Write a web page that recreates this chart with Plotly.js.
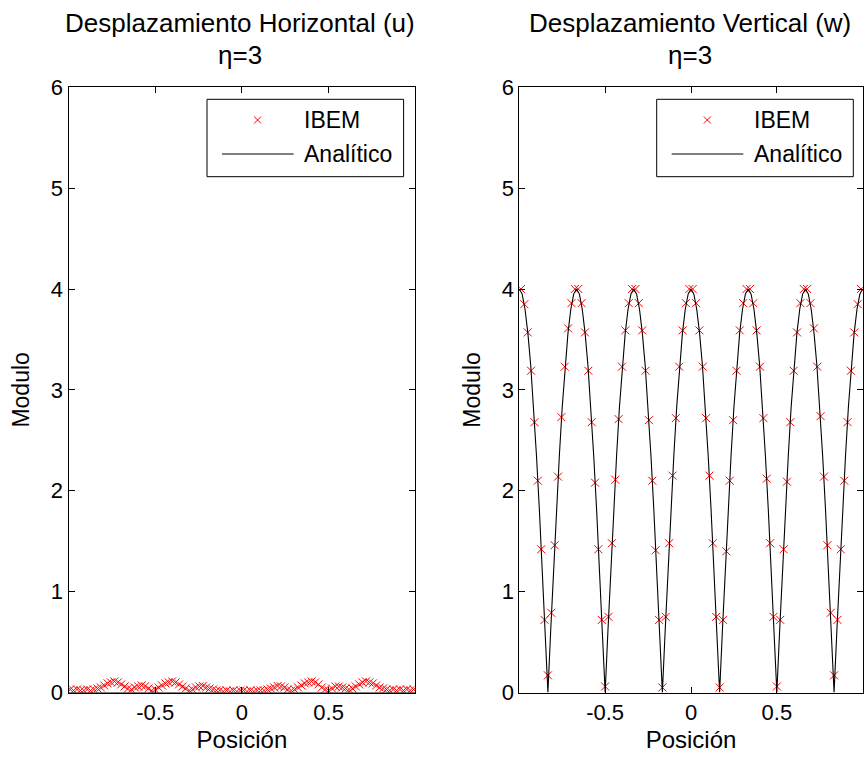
<!DOCTYPE html>
<html>
<head>
<meta charset="utf-8">
<script src="https://cdn.plot.ly/plotly-3.0.1.min.js"></script>
<style>html,body{margin:0;padding:0;background:#fff;}#chart{width:866px;height:758px;}</style>
</head>
<body>
<div id="chart"></div>
<script>
// ---- data ----
var posIBEM = [-0.9902,-0.9706,-0.9510,-0.9314,-0.9118,-0.8922,-0.8725,-0.8529,-0.8333,-0.8137,
  -0.7941,-0.7745,-0.7549,-0.7353,-0.7157,-0.6961,-0.6765,-0.6569,-0.6373,-0.6176,
  -0.5980,-0.5784,-0.5588,-0.5392,-0.5196,-0.5000,-0.4804,-0.4608,-0.4412,-0.4216,
  -0.4020,-0.3824,-0.3627,-0.3431,-0.3235,-0.3039,-0.2843,-0.2647,-0.2451,-0.2255,
  -0.2059,-0.1863,-0.1667,-0.1471,-0.1275,-0.1078,-0.0882,-0.0686,-0.0490,-0.0294,
  -0.0098,0.0098,0.0294,0.0490,0.0686,0.0882,0.1078,0.1275,0.1471,0.1667,
  0.1863,0.2059,0.2255,0.2451,0.2647,0.2843,0.3039,0.3235,0.3431,0.3627,
  0.3824,0.4020,0.4216,0.4412,0.4608,0.4804,0.5000,0.5196,0.5392,0.5588,
  0.5784,0.5980,0.6176,0.6373,0.6569,0.6765,0.6961,0.7157,0.7353,0.7549,
  0.7745,0.7941,0.8137,0.8333,0.8529,0.8725,0.8922,0.9118,0.9314,0.9510,
  0.9706,0.9902];

var uIBEM = [0.03,0.02,0.03,0.02,0.02,0.03,0.02,0.03,0.04,0.05,
  0.07,0.09,0.10,0.11,0.10,0.08,0.06,0.04,0.03,0.05,
  0.06,0.07,0.06,0.04,0.02,0.03,0.05,0.07,0.09,0.10,
  0.11,0.10,0.08,0.06,0.04,0.02,0.03,0.05,0.06,0.065,
  0.05,0.04,0.03,0.02,0.02,0.01,0.02,0.01,0.02,0.01,
  0.02,0.02,0.01,0.02,0.01,0.02,0.02,0.02,0.03,0.04,
  0.05,0.065,0.06,0.05,0.03,0.02,0.03,0.05,0.07,0.09,
  0.10,0.11,0.10,0.08,0.05,0.03,0.02,0.04,0.06,0.06,
  0.05,0.04,0.03,0.04,0.06,0.08,0.10,0.11,0.10,0.09,
  0.07,0.05,0.04,0.03,0.02,0.03,0.02,0.03,0.02,0.03,
  0.02,0.03];

var wIBEM = [4.00,3.85,3.57,3.19,2.68,2.10,1.42,0.72,0.17,0.79,
  1.46,2.14,2.73,3.23,3.61,3.86,4.00,4.00,3.86,3.57,
  3.19,2.68,2.08,1.42,0.72,0.06,0.75,1.48,2.11,2.71,
  3.23,3.59,3.86,4.00,4.00,3.86,3.59,3.19,2.70,2.10,
  1.41,0.72,0.05,0.75,1.48,2.15,2.72,3.23,3.59,3.86,
  4.00,4.00,3.86,3.59,3.23,2.72,2.15,1.48,0.75,0.05,
  0.72,1.40,2.10,2.70,3.19,3.59,3.86,4.00,4.00,3.86,
  3.59,3.23,2.72,2.12,1.48,0.75,0.06,0.72,1.42,2.09,
  2.68,3.19,3.57,3.86,4.00,4.00,3.86,3.61,3.23,2.74,
  2.14,1.46,0.79,0.17,0.72,1.42,2.10,2.68,3.19,3.57,
  3.85,4.00];

var posAnal = [-1.0000,-0.9833,-0.9667,-0.9500,-0.9333,-0.9167,-0.9000,-0.8833,-0.8667,-0.8500,
  -0.8333,-0.8167,-0.8000,-0.7833,-0.7667,-0.7500,-0.7333,-0.7167,-0.7000,-0.6833,
  -0.6667,-0.6500,-0.6333,-0.6167,-0.6000,-0.5833,-0.5667,-0.5500,-0.5333,-0.5167,
  -0.5000,-0.4833,-0.4667,-0.4500,-0.4333,-0.4167,-0.4000,-0.3833,-0.3667,-0.3500,
  -0.3333,-0.3167,-0.3000,-0.2833,-0.2667,-0.2500,-0.2333,-0.2167,-0.2000,-0.1833,
  -0.1667,-0.1500,-0.1333,-0.1167,-0.1000,-0.0833,-0.0667,-0.0500,-0.0333,-0.0167,
  0.0000,0.0167,0.0333,0.0500,0.0667,0.0833,0.1000,0.1167,0.1333,0.1500,
  0.1667,0.1833,0.2000,0.2167,0.2333,0.2500,0.2667,0.2833,0.3000,0.3167,
  0.3333,0.3500,0.3667,0.3833,0.4000,0.4167,0.4333,0.4500,0.4667,0.4833,
  0.5000,0.5167,0.5333,0.5500,0.5667,0.5833,0.6000,0.6167,0.6333,0.6500,
  0.6667,0.6833,0.7000,0.7167,0.7333,0.7500,0.7667,0.7833,0.8000,0.8167,
  0.8333,0.8500,0.8667,0.8833,0.9000,0.9167,0.9333,0.9500,0.9667,0.9833,
  1.0000];

var wAnal = [4.00,3.95,3.80,3.56,3.24,2.83,2.35,1.82,1.24,0.63,
  0.00,0.63,1.24,1.82,2.35,2.83,3.24,3.56,3.80,3.95,
  4.00,3.95,3.80,3.56,3.24,2.83,2.35,1.82,1.24,0.63,
  0.00,0.63,1.24,1.82,2.35,2.83,3.24,3.56,3.80,3.95,
  4.00,3.95,3.80,3.56,3.24,2.83,2.35,1.82,1.24,0.63,
  0.00,0.63,1.24,1.82,2.35,2.83,3.24,3.56,3.80,3.95,
  4.00,3.95,3.80,3.56,3.24,2.83,2.35,1.82,1.24,0.63,
  0.00,0.63,1.24,1.82,2.35,2.83,3.24,3.56,3.80,3.95,
  4.00,3.95,3.80,3.56,3.24,2.83,2.35,1.82,1.24,0.63,
  0.00,0.63,1.24,1.82,2.35,2.83,3.24,3.56,3.80,3.95,
  4.00,3.95,3.80,3.56,3.24,2.83,2.35,1.82,1.24,0.63,
  0.00,0.63,1.24,1.82,2.35,2.83,3.24,3.56,3.80,3.95,
  4.00];

var posAnalU = [-1, 1];
var uAnal = [0, 0];

var xTickVals = [-0.5, 0, 0.5];
var xTickText = ['-0.5', '0', '0.5'];
var yTickVals = [0, 1, 2, 3, 4, 5, 6];
var seriesNames = ['IBEM', 'Analítico'];
var titlesU = ['Desplazamiento Horizontal (u)', 'η=3'];
var titlesW = ['Desplazamiento Vertical (w)', 'η=3'];
var xLabel = 'Posición';
var yLabel = 'Modulo';

// ---- layout helpers ----
var W = 866, H = 758;
function px(x) { return x / W; }
function py(y) { return (H - y) / H; }
var FONT = 'Liberation Sans, Arial, Helvetica, sans-serif';

var markerStyle = {symbol: 'x-thin-open', size: 8, color: '#ff0000', line: {color: '#ff0000', width: 1}};

var traces = [
  {x: posIBEM, y: uIBEM, xaxis: 'x', yaxis: 'y', mode: 'markers', marker: markerStyle, name: seriesNames[0], showlegend: false},
  {x: posAnalU, y: uAnal, xaxis: 'x', yaxis: 'y', mode: 'lines', line: {color: '#000', width: 1}, name: seriesNames[1], showlegend: false},
  {x: posIBEM, y: wIBEM, xaxis: 'x2', yaxis: 'y2', mode: 'markers', marker: markerStyle, name: seriesNames[0], showlegend: false},
  {x: posAnal, y: wAnal, xaxis: 'x2', yaxis: 'y2', mode: 'lines', line: {color: '#000', width: 1.1}, name: seriesNames[1], showlegend: false}
];

function xAxis(dom) {
  return {
    domain: dom, range: [-1, 1], tickvals: xTickVals, ticktext: xTickText,
    ticks: 'inside', ticklen: 6, tickcolor: '#000', showline: true, linecolor: '#000', linewidth: 1,
    mirror: 'ticks', showgrid: false, zeroline: false, fixedrange: true,
    tickfont: {family: FONT, size: 22, color: '#000'},
    title: {text: xLabel, font: {family: FONT, size: 24, color: '#000'}, standoff: 7},
    automargin: false
  };
}
function yAxis(anchor) {
  return {
    domain: [py(692.5), py(87.3)], range: [0, 6], tickvals: yTickVals, anchor: anchor,
    ticks: 'inside', ticklen: 6, tickcolor: '#000', showline: true, linecolor: '#000', linewidth: 1,
    mirror: 'ticks', showgrid: false, zeroline: false, fixedrange: true,
    tickfont: {family: FONT, size: 22, color: '#000'},
    title: {text: yLabel, font: {family: FONT, size: 23, color: '#000'}, standoff: 14},
    automargin: false
  };
}

var xa = xAxis([px(68.5), px(415.3)]); xa.anchor = 'y';
var xa2 = xAxis([px(519.3), px(862.7)]); xa2.anchor = 'y2';

// custom legends
var shapes = [], annotations = [];
function addLegend(boxL) {
  var top = 99.3, bot = 176.7, w = 196.6;
  shapes.push({type: 'rect', xref: 'paper', yref: 'paper', x0: px(boxL), x1: px(boxL + w), y0: py(bot), y1: py(top),
    line: {color: '#000', width: 1}, fillcolor: '#fff', layer: 'above'});
  var mx = boxL + 50.6, my = 120, s = 3.5;
  shapes.push({type: 'line', xref: 'paper', yref: 'paper', x0: px(mx - s), x1: px(mx + s), y0: py(my - s), y1: py(my + s), line: {color: '#ff0000', width: 1}, layer: 'above'});
  shapes.push({type: 'line', xref: 'paper', yref: 'paper', x0: px(mx - s), x1: px(mx + s), y0: py(my + s), y1: py(my - s), line: {color: '#ff0000', width: 1}, layer: 'above'});
  shapes.push({type: 'line', xref: 'paper', yref: 'paper', x0: px(boxL + 15), x1: px(boxL + 86.6), y0: py(154), y1: py(154), line: {color: '#000', width: 1}, layer: 'above'});
  annotations.push({xref: 'paper', yref: 'paper', x: px(boxL + 95), y: py(120), xanchor: 'left', yanchor: 'middle', showarrow: false,
    text: seriesNames[0], font: {family: FONT, size: 23, color: '#000'}});
  annotations.push({xref: 'paper', yref: 'paper', x: px(boxL + 95), y: py(154), xanchor: 'left', yanchor: 'middle', showarrow: false,
    text: seriesNames[1], font: {family: FONT, size: 23, color: '#000'}});
}
addLegend(207);
addLegend(656.7);

function addTitle(lines, cx) {
  annotations.push({xref: 'paper', yref: 'paper', x: px(cx), y: py(23), xanchor: 'center', yanchor: 'middle', showarrow: false,
    text: lines[0], font: {family: FONT, size: 26, color: '#000'}});
  annotations.push({xref: 'paper', yref: 'paper', x: px(cx), y: py(55), xanchor: 'center', yanchor: 'middle', showarrow: false,
    text: lines[1], font: {family: FONT, size: 26, color: '#000'}});
}
addTitle(titlesU, 240);
addTitle(titlesW, 690);

var layout = {
  width: W, height: H,
  margin: {l: 0, r: 0, t: 0, b: 0, pad: 0},
  paper_bgcolor: '#fff', plot_bgcolor: '#fff',
  showlegend: false,
  xaxis: xa, yaxis: yAxis('x'),
  xaxis2: xa2, yaxis2: yAxis('x2'),
  shapes: shapes, annotations: annotations,
  font: {family: FONT, color: '#000'}
};

Plotly.newPlot('chart', traces, layout, {staticPlot: true, displayModeBar: false});
</script>
</body>
</html>
